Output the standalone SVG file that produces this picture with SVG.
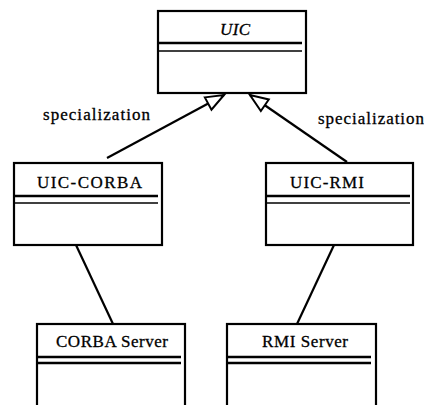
<svg xmlns="http://www.w3.org/2000/svg" width="424" height="405" viewBox="0 0 424 405">
<style>
.box{fill:#fff;stroke:#000;stroke-width:2.2}
.thick{stroke:#000;stroke-width:2.6}
.thin{stroke:#000;stroke-width:1.4}
.lbl{font-family:"Liberation Serif","Times New Roman",serif;font-size:17px;fill:#000;stroke:#000;stroke-width:0.3}
.conn{stroke:#000;stroke-width:2.2;fill:none}
</style>
<defs>
<marker id="tri" markerUnits="userSpaceOnUse" markerWidth="24" markerHeight="20" viewBox="-2 -2 24 20" refX="18" refY="7" orient="auto">
<path d="M0,0 L18,7 L0,14 z" fill="#fff" stroke="#000" stroke-width="2"/>
</marker>
</defs>
<rect width="424" height="405" fill="#fff"/>
<g id="connectors">
<line class="conn" x1="107" y1="158" x2="224" y2="95" marker-end="url(#tri)"/>
<line class="conn" x1="347" y1="162" x2="250" y2="95" marker-end="url(#tri)"/>
<line class="conn" x1="76" y1="245" x2="113" y2="324"/>
<line class="conn" x1="334" y1="245" x2="297" y2="324"/>
<text class="lbl" x="43" y="120" textLength="107">specialization</text>
<text class="lbl" x="318" y="124" textLength="106">specialization</text>
</g>
<g id="UIC">
<rect class="box" x="158" y="11" width="148" height="82"/>
<line class="thick" x1="158" y1="43" x2="302" y2="43"/>
<line class="thin" x1="158" y1="51" x2="302" y2="51"/>
<text class="lbl" x="220" y="35" font-style="italic" textLength="30">UIC</text>
</g>
<g id="UIC-CORBA">
<rect class="box" x="14" y="163" width="148" height="82"/>
<line class="thick" x1="14" y1="196" x2="158" y2="196"/>
<line class="thin" x1="14" y1="203" x2="158" y2="203"/>
<text class="lbl" x="37" y="188" textLength="105">UIC-CORBA</text>
</g>
<g id="UIC-RMI">
<rect class="box" x="266" y="163" width="147" height="82"/>
<line class="thick" x1="266" y1="196" x2="410" y2="196"/>
<line class="thin" x1="266" y1="203" x2="410" y2="203"/>
<text class="lbl" x="290" y="188" textLength="74">UIC-RMI</text>
</g>
<g id="CORBA-Server">
<rect class="box" x="37" y="324" width="148" height="100"/>
<line class="thick" x1="37" y1="357" x2="181" y2="357"/>
<line class="thick" x1="37" y1="363" x2="181" y2="363"/>
<text class="lbl" x="56" y="347" textLength="112">CORBA Server</text>
</g>
<g id="RMI-Server">
<rect class="box" x="227" y="324" width="149" height="100"/>
<line class="thick" x1="227" y1="357" x2="371" y2="357"/>
<line class="thick" x1="227" y1="363" x2="371" y2="363"/>
<text class="lbl" x="262" y="347" textLength="86">RMI Server</text>
</g>
</svg>
